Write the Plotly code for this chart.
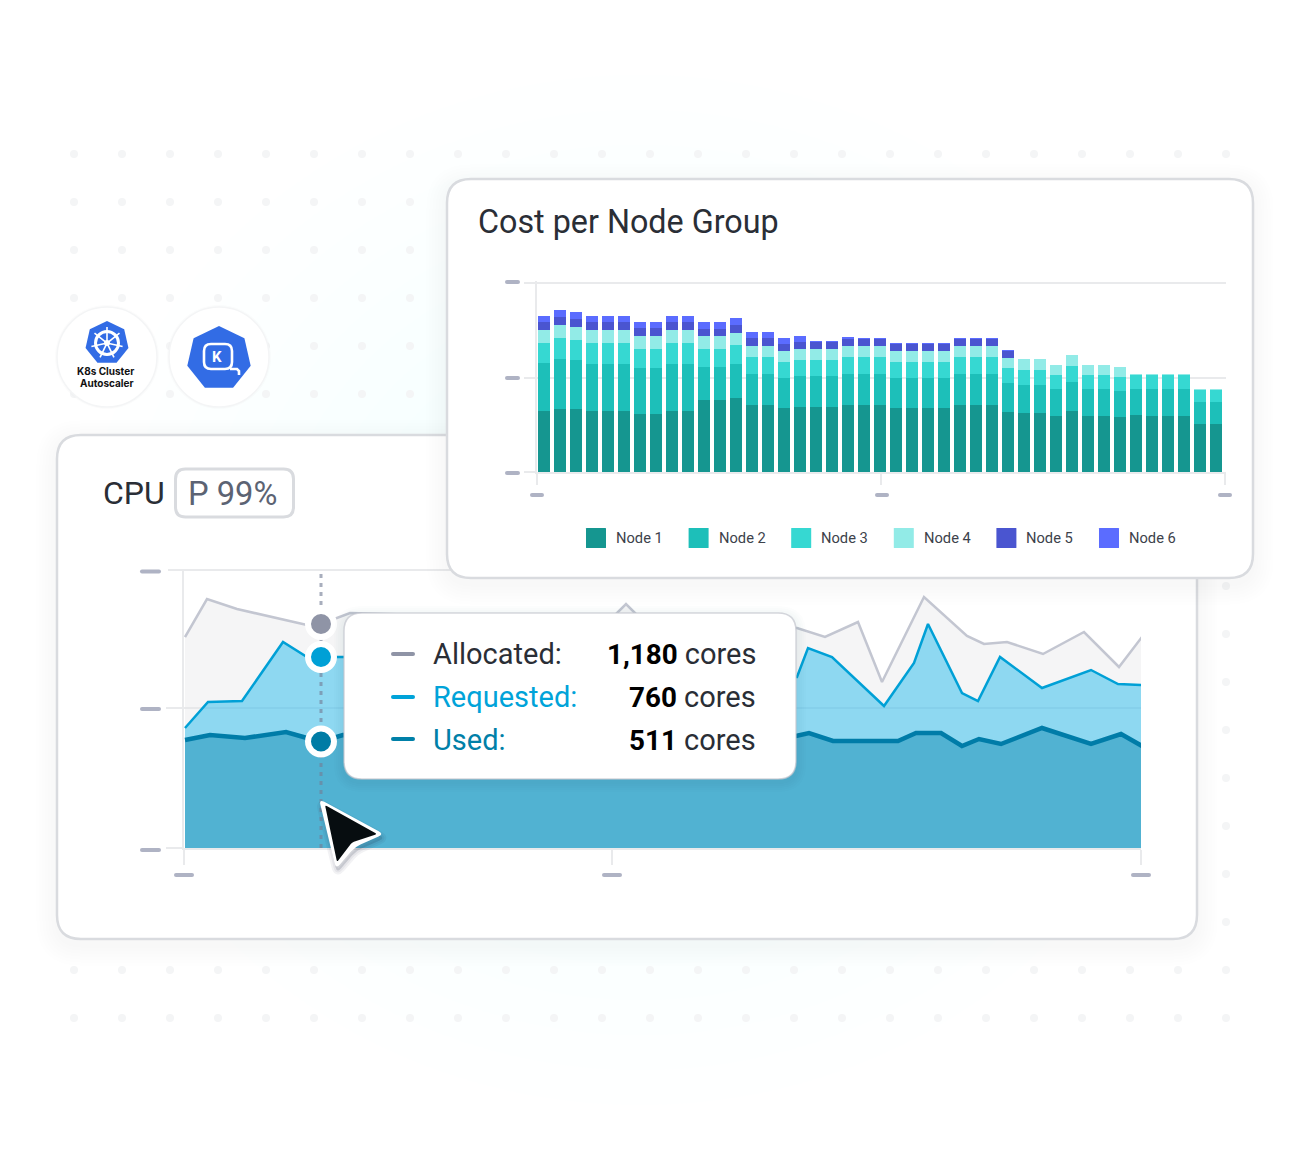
import math
import plotly.graph_objects as go

W, H = 1296, 1172

# ---------- Cost per Node Group data ----------
bar_index = list(range(43))
node1 = [183,189,188,183,183,183,175,175,183,183,216,216,222,201,201,192,195,195,195,201,200,200,192,192,192,192,200,200,200,181,178,178,169,184,169,169,165,171,169,169,169,144,144]
node2 = [144,150,148,142,142,142,137,137,142,142,99,99,102,93,93,90,93,93,93,93,94,94,90,90,90,90,94,94,94,86,83,83,80,87,80,80,78,79,79,79,79,66,66]
node3 = [60,63,61,62,62,62,58,58,62,62,55,55,57,51,51,48,49,49,49,51,51,51,48,48,48,48,51,51,51,46,45,45,42,47,42,42,42,43,43,43,43,37,37]
node4 = [38,39,38,38,38,38,37,37,38,38,37,37,36,34,34,33,33,33,33,34,33,33,33,33,33,33,33,33,33,30,32,32,30,33,30,30,30,1,1,1,1,2,2]
node5 = [24,25,25,24,24,24,24,24,24,24,23,23,24,22,22,21,21,21,21,22,22,22,21,21,21,21,22,22,22,20,0,0,0,0,0,0,0,0,0,0,0,0,0]
node6 = [19,20,20,19,19,19,19,19,19,19,20,20,20,18,18,17,17,2,2,2,2,2,1,1,1,1,2,2,2,2,0,0,0,0,0,0,0,0,0,0,0,0,0]
node_names = ["Node 1", "Node 2", "Node 3", "Node 4", "Node 5", "Node 6"]
node_colors = ["#159690", "#1dbfb9", "#36d8d2", "#92ebe7", "#4a55d0", "#5b6cff"]

# ---------- CPU data ----------
alloc_x = [1,23,53,101,123,137,166,426,442,458,613,641,674,698,740,783,800,823,859,900,935,958]
alloc_y = [211,249,239,228,223,224,235,228,244,228,220,211,226,166,251,212,204,206,194,216,181,211]
req_x = [1,24,58,99,123,137,159,613,624,648,700,730,744,778,794,816,858,907,934,958]
req_y = [120,146,147,206,191,191,191,171,200,191,142,185,224,155,147,191,160,178,164,163]
used_x = [1,26,61,102,123,137,159,612,625,649,714,732,757,778,795,817,858,907,937,958]
used_y = [108,113,110,116,110,106.5,113,112,115,107,107,115,115,102,109,104,120,104,114,102]
hover_x = 137
hover_alloc, hover_req, hover_used = 224, 191, 106.5
tip_labels = ["Allocated:", "Requested:", "Used:"]
tip_values = ["1,180", "760", "511"]
tip_colors = ["#2a2e36", "#00a3d9", "#0080a8"]
tip_dash_colors = ["#8f94a6", "#00a3d9", "#0080a8"]


def X(px):
    return px / W


def Y(py):
    return 1 - py / H


def poly(pts, close=True):
    s = "M" + " L".join(f"{X(x):.5f},{Y(y):.5f}" for x, y in pts)
    return s + (" Z" if close else "")


def rpoly(pts, r):
    """Closed polygon with rounded corners."""
    n = len(pts)
    out = ""
    for i in range(n):
        px, py = pts[i - 1]
        cx, cy = pts[i]
        nx, ny = pts[(i + 1) % n]
        d1 = math.hypot(px - cx, py - cy)
        d2 = math.hypot(nx - cx, ny - cy)
        ax, ay = cx + (px - cx) * r / d1, cy + (py - cy) * r / d1
        bx, by = cx + (nx - cx) * r / d2, cy + (ny - cy) * r / d2
        out += ("M" if i == 0 else "L") + f"{X(ax):.5f},{Y(ay):.5f} Q{X(cx):.5f},{Y(cy):.5f} {X(bx):.5f},{Y(by):.5f} "
    return out + "Z"


def rrect(x0, y0, x1, y1, r):
    def p(x, y):
        return f"{X(x):.5f},{Y(y):.5f}"
    return (f"M{p(x0+r,y0)} L{p(x1-r,y0)} Q{p(x1,y0)} {p(x1,y0+r)} L{p(x1,y1-r)} Q{p(x1,y1)} {p(x1-r,y1)} "
            f"L{p(x0+r,y1)} Q{p(x0,y1)} {p(x0,y1-r)} L{p(x0,y0+r)} Q{p(x0,y0)} {p(x0+r,y0)} Z")


def path(d, fill="rgba(0,0,0,0)", line=None, width=0, layer="below"):
    return dict(type="path", xref="paper", yref="paper", path=d, fillcolor=fill, layer=layer,
                line=dict(color=line or "rgba(0,0,0,0)", width=width))


def circle(cx, cy, rx, ry=None, fill="rgba(0,0,0,0)", line=None, width=0, layer="below"):
    ry = ry or rx
    return dict(type="circle", xref="paper", yref="paper", x0=X(cx-rx), x1=X(cx+rx), y0=Y(cy+ry), y1=Y(cy-ry),
                fillcolor=fill, layer=layer, line=dict(color=line or "rgba(0,0,0,0)", width=width))


def pill(x0, x1, yc, color="#afb3c4", t=4):
    return path(rrect(x0, yc-t/2, x1, yc+t/2, t/2), fill=color, layer="below")


def heptagon(cx, cy, r):
    return [(cx + r*math.sin(2*math.pi*k/7), cy - r*math.cos(2*math.pi*k/7)) for k in range(7)]


def shadow(x0, y0, x1, y1, r, layer, n=7, alpha=0.005, step=3, dy=6):
    return [path(rrect(x0-k*step, y0-k*step+dy, x1+k*step, y1+k*step+dy, r+k*step),
                 fill=f"rgba(40,50,70,{alpha})", layer=layer) for k in range(n, 0, -1)]


shapes = []
# background glow
for k in range(14):
    rr = 560 - k*38
    shapes.append(circle(640, 590, rr, rr*0.92, fill="rgba(170,240,240,0.014)"))
# dot grid
for j in range(19):
    for i in range(25):
        shapes.append(circle(74 + 48*i, 154 + 48*j, 4, fill="#f4f5f6"))

# badges
for cx in (107, 219):
    shapes.append(circle(cx, 357, 52, fill="rgba(40,50,70,0.015)"))
    shapes.append(circle(cx, 357, 50, fill="#ffffff", line="#f4f5f6", width=1.5))
shapes.append(path(poly(heptagon(107, 343, 22)), fill="#326ce5"))
shapes.append(circle(107, 343, 11.5, fill="rgba(0,0,0,0)", line="#ffffff", width=3))
shapes.append(circle(107, 343, 3, fill="#ffffff"))
for k in range(7):
    a = 2*math.pi*k/7
    shapes.append(path(poly([(107+2*math.sin(a), 343-2*math.cos(a)), (107+16*math.sin(a), 343-16*math.cos(a))], close=False),
                       line="#ffffff", width=1.6))
shapes.append(path(poly(heptagon(219, 358.5, 32.5)), fill="#326ce5"))
shapes.append(path(rrect(204, 344, 232, 369, 7), line="#ffffff", width=2.6))
shapes.append(path(poly([(230, 369), (237, 369), (239, 371), (239, 375)], close=False), line="#ffffff", width=2.6))

# CPU card
shapes += shadow(57, 435, 1197, 939, 24, "below")
shapes.append(path(rrect(57, 435, 1197, 939, 24), fill="#ffffff", line="#d9dbdf", width=2.5))
shapes.append(path(rrect(175.5, 469, 293.5, 517, 10), fill="#ffffff", line="#d9dbdf", width=3))
# CPU top grid line (passes under the cost card)
shapes.append(path(poly([(168, 570), (500, 570)], close=False), line="#e9eaec", width=2))
shapes.append(pill(140, 161, 571.5))
shapes.append(pill(140, 161, 709))
shapes.append(pill(140, 161, 850))
shapes.append(pill(174, 194, 875))
shapes.append(pill(602, 622, 875))
shapes.append(pill(1131, 1151, 875))

# Cost card
shapes += shadow(447, 179, 1253, 578, 24, "below")
shapes.append(path(rrect(447, 179, 1253, 578, 24), fill="#ffffff", line="#d9dbdf", width=2.5))
shapes.append(pill(505, 520, 282))
shapes.append(pill(505, 520, 378))
shapes.append(pill(505, 520, 473))
shapes.append(pill(530, 544, 495))
shapes.append(pill(875, 889, 495))
shapes.append(pill(1218, 1232, 495))

# legend swatches
for i, c in enumerate(node_colors):
    x0 = 586 + 102.6*i
    shapes.append(path(rrect(x0, 528, x0+20, 548, 0.5), fill=c))

# tooltip
shapes += shadow(344, 613, 796, 779, 18, "above", n=5, alpha=0.012, step=2, dy=3)
shapes.append(path(rrect(344, 613, 796, 779, 18), fill="#ffffff", line="rgba(195,197,205,0.7)", width=1.5, layer="above"))
for yc, c in zip((654, 697, 739), tip_dash_colors):
    s = pill(391, 415, yc, c)
    s["layer"] = "above"
    shapes.append(s)

# cursor
cursor_out = [(319, 799), (384, 834), (355, 847), (336, 869)]
cursor_in = [(325, 805), (377, 834), (352, 842.5), (337, 862)]
for k in (4, 2):
    shapes.append(path(rpoly([(x+1, y+4) for x, y in cursor_out], 6), fill="rgba(30,40,60,0.08)",
                       line="rgba(30,40,60,0.06)", width=k*2, layer="above"))
shapes.append(path(rpoly(cursor_out, 6), fill="#ffffff", layer="above"))
shapes.append(path(rpoly(cursor_in, 2), fill="#070d10", layer="above"))

# ---------- annotations ----------
FONT = "Roboto"


def txt(x, y, text, size, color, anchor="left", family=FONT):
    return dict(x=X(x), y=Y(y), xref="paper", yref="paper", text=text, showarrow=False,
                xanchor=anchor, yanchor="middle", align=anchor,
                font=dict(family=family, size=size, color=color))


ann = [
    txt(476, 222, "Cost per Node Group", 32.3, "#2a2e36"),
    txt(101, 493, "CPU", 32, "#2a2e36"),
    txt(186, 494, "P 99%", 32.7, "#5c6373"),
    txt(105.5, 371, "<b>K8s Cluster</b>", 10, "#111111", "center", "Inter"),
    txt(106.5, 383, "<b>Autoscaler</b>", 10, "#111111", "center", "Inter"),
    txt(216.5, 356.5, "<b>K</b>", 15, "#ffffff", "center"),
]
for i, n in enumerate(node_names):
    ann.append(txt(614 + 102.6*i, 538, n, 14.7, "#3d424b"))
for yc, lab, val, c in zip((654, 697, 740), tip_labels, tip_values, tip_colors):
    ann.append(txt(431, yc, lab, 29, c))
    ann.append(txt(758, yc, f'<b style="color:#000000;font-size:27.8px">{val}</b> cores', 29, "#2a2e36", "right"))

# ---------- traces ----------
fig = go.Figure()
GRID = "#e9eaec"

# CPU
fig.add_trace(go.Scatter(x=alloc_x, y=alloc_y, mode="lines", fill="tozeroy", fillcolor="rgba(228,228,232,0.38)",
                         line=dict(color="#c3c6d1", width=2.5), xaxis="x", yaxis="y", cliponaxis=False,
                         name="Allocated", showlegend=False))
fig.add_trace(go.Scatter(x=req_x, y=req_y, mode="lines", fill="tozeroy", fillcolor="rgba(20,180,235,0.46)",
                         line=dict(color="#00a0d6", width=2.5), xaxis="x", yaxis="y", cliponaxis=False,
                         name="Requested", showlegend=False))
fig.add_trace(go.Scatter(x=used_x, y=used_y, mode="lines", fill="tozeroy", fillcolor="rgba(20,140,180,0.5)",
                         line=dict(color="#007ca8", width=4.5), xaxis="x", yaxis="y", cliponaxis=False,
                         name="Used", showlegend=False))
fig.add_trace(go.Scatter(x=[hover_x, hover_x], y=[0, 276], mode="lines", xaxis="x", yaxis="y",
                         line=dict(color="rgba(115,125,148,0.62)", width=3, dash="4px,5px"),
                         showlegend=False, hoverinfo="skip"))
fig.add_trace(go.Scatter(x=[hover_x]*3, y=[hover_alloc, hover_req, hover_used], mode="markers", xaxis="x", yaxis="y",
                         marker=dict(size=26, color=["#8f94a6", "#00a0d6", "#007ca5"], line=dict(color="#ffffff", width=6)),
                         cliponaxis=False, showlegend=False, hoverinfo="skip"))

# Cost
for name, vals, c in zip(node_names, (node1, node2, node3, node4, node5, node6), node_colors):
    fig.add_trace(go.Bar(x=bar_index, y=vals, name=name, marker=dict(color=c, line=dict(width=0)),
                         xaxis="x2", yaxis="y2", showlegend=False))

fig.update_layout(
    width=W, height=H, margin=dict(l=0, r=0, t=0, b=0, pad=0),
    paper_bgcolor="#ffffff", plot_bgcolor="rgba(0,0,0,0)", showlegend=False,
    barmode="stack", bargap=0.25,
    shapes=shapes, annotations=ann,
    xaxis=dict(domain=[X(184), X(1141)], range=[0, 957], anchor="y", showgrid=False, zeroline=False,
               tickmode="array", tickvals=[0, 428, 957], ticktext=["", "", ""], ticks="outside",
               ticklen=15, tickwidth=2, tickcolor=GRID, showline=True, linecolor=GRID, linewidth=2),
    yaxis=dict(domain=[Y(848), Y(570)], range=[0, 278], anchor="x", showgrid=True, gridcolor=GRID, gridwidth=2,
               zeroline=False, tickmode="array", tickvals=[0, 140], ticktext=["", ""], ticks="outside",
               ticklen=16, tickwidth=2, tickcolor=GRID, showline=True, linecolor=GRID, linewidth=2),
    xaxis2=dict(domain=[X(537), X(1226)], range=[-0.4375, 42.625], anchor="y2", showgrid=False, zeroline=False,
                tickmode="array", tickvals=[-0.4375, 21.0625, 42.5625], ticktext=["", "", ""], ticks="outside",
                ticklen=11, tickwidth=2, tickcolor=GRID, showline=True, linecolor=GRID, linewidth=2),
    yaxis2=dict(domain=[Y(472), Y(281)], range=[0, 573], anchor="x2", showgrid=True, gridcolor=GRID, gridwidth=2,
                zeroline=False, tickmode="array", tickvals=[0, 283, 567], ticktext=["", "", ""], ticks="outside",
                ticklen=11, tickwidth=2, tickcolor=GRID, showline=True, linecolor=GRID, linewidth=2),
)

fig.write_html("out.html", config={"displayModeBar": False},
               post_script="document.body.style.margin='0';document.body.style.overflow='hidden';")
